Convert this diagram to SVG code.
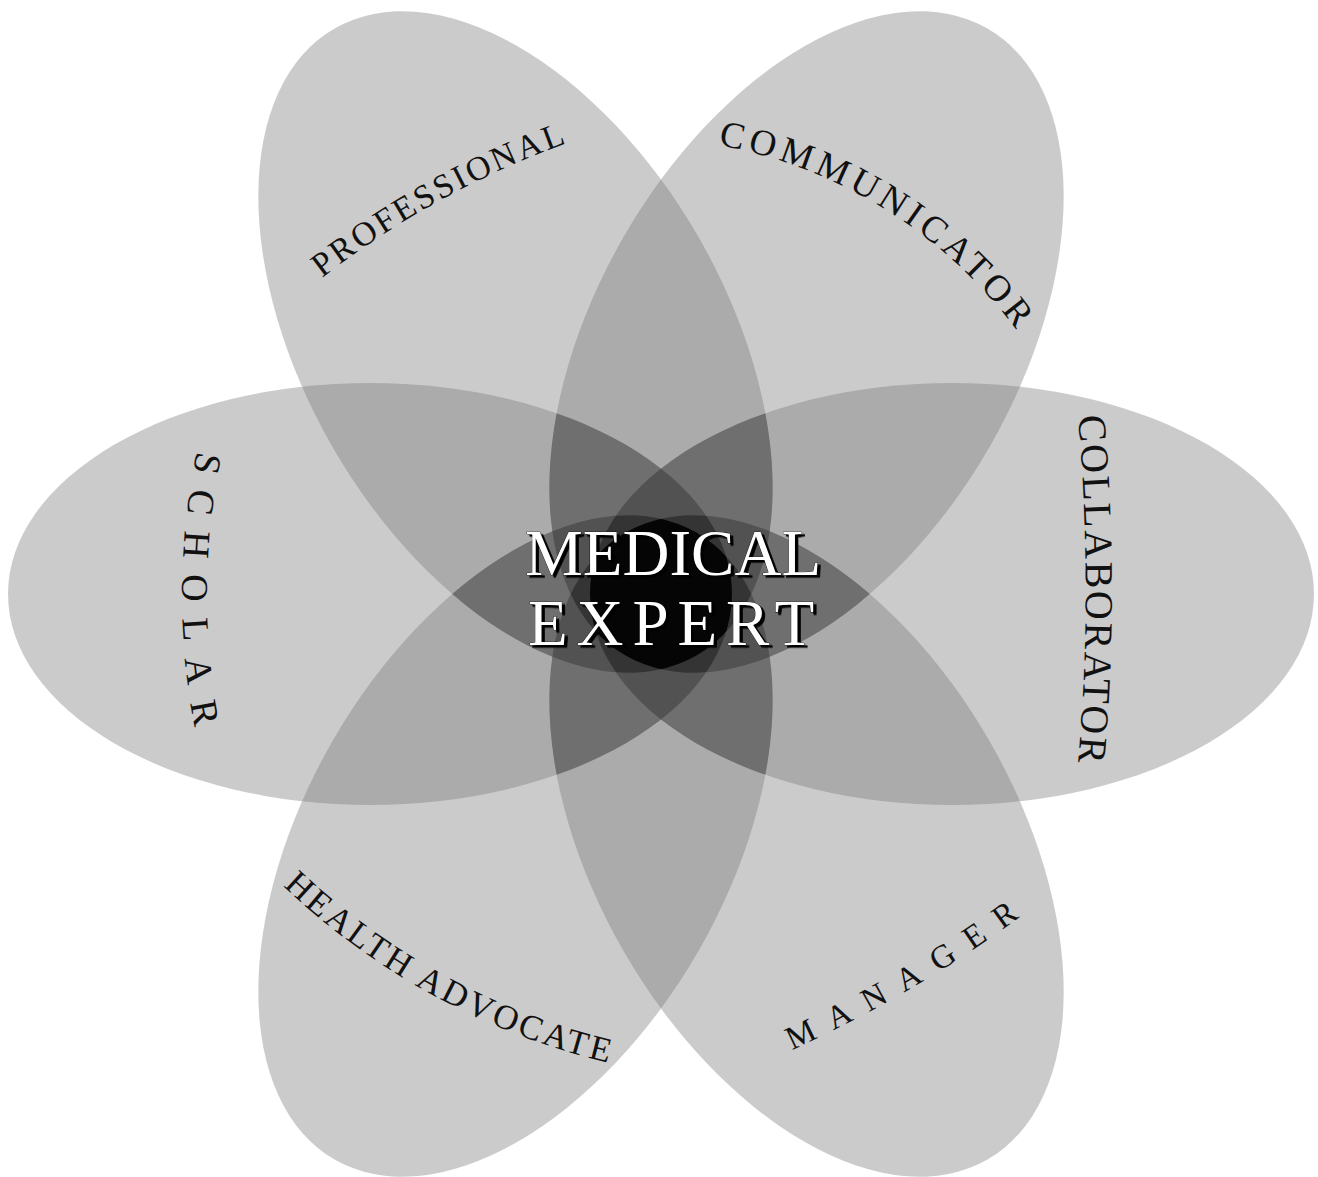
<svg xmlns="http://www.w3.org/2000/svg" width="1318" height="1177" viewBox="0 0 1318 1177">
<style>
.petal{fill:#000;fill-opacity:0.2}
.lbl{font-family:"Liberation Serif","Times New Roman",serif;fill:#111}
.me{font-family:"Liberation Serif","Times New Roman",serif;font-size:65px;fill:#fff;stroke:#000;stroke-width:0.7px;paint-order:stroke}
</style>
<defs>
<filter id="layers" filterUnits="userSpaceOnUse" x="0" y="0" width="1318" height="1177" color-interpolation-filters="sRGB">
<feComponentTransfer>
<feFuncA type="table" tableValues="0 0.0204 0.0408 0.0612 0.0816 0.102 0.1224 0.1428 0.1632 0.1836 0.204 0.2201 0.2362 0.2524 0.2685 0.2846 0.3007 0.3169 0.333 0.3716 0.4102 0.4488 0.4874 0.526 0.5646 0.5924 0.6131 0.6338 0.6545 0.6752 0.6998 0.7287 0.7575 0.7863 0.827 0.8868 0.9465 1 1 1 1 1 1 1 1 1 1 1 1 1 1"/>
</feComponentTransfer>
</filter>
<filter id="shadow" x="-10%" y="-20%" width="130%" height="150%" color-interpolation-filters="sRGB">
<feDropShadow dx="3" dy="2.5" stdDeviation="0.6" flood-color="#000" flood-opacity="1"/>
</filter>
<path id="p-prof" d="M 322 278 A 900 900 0 0 1 567 143"/>
<path id="p-comm" d="M 718 145 A 480 480 0 0 1 1018 332"/>
<path id="p-coll" d="M 1078 416 A 2000 2000 0 0 1 1078 764"/>
<path id="p-scho" d="M 197 451 A 700 700 0 0 0 195 729"/>
<path id="p-heal" d="M 283 886 A 717 717 0 0 0 609 1063"/>
<path id="p-mana" d="M 792 1050 A 1300 1300 0 0 0 1020 917"/>
</defs>
<rect x="0" y="0" width="1318" height="1177" fill="#fff"/>
<g id="petals" filter="url(#layers)">
<g id="petal-collaborator"><ellipse class="petal" cx="0" cy="0" rx="362" ry="211" transform="translate(952 594)"/></g>
<g id="petal-communicator"><ellipse class="petal" cx="0" cy="0" rx="362" ry="211" transform="translate(806.5 342) rotate(-60)"/></g>
<g id="petal-professional"><ellipse class="petal" cx="0" cy="0" rx="362" ry="211" transform="translate(515.5 342) rotate(60)"/></g>
<g id="petal-scholar"><ellipse class="petal" cx="0" cy="0" rx="362" ry="211" transform="translate(370 594)"/></g>
<g id="petal-health-advocate"><ellipse class="petal" cx="0" cy="0" rx="362" ry="211" transform="translate(515.5 846) rotate(-60)"/></g>
<g id="petal-manager"><ellipse class="petal" cx="0" cy="0" rx="362" ry="211" transform="translate(806.5 846) rotate(60)"/></g>
</g>
<g id="labels">
<g id="label-professional"><text class="lbl" font-size="34" letter-spacing="2.8"><textPath href="#p-prof">PROFESSIONAL</textPath></text></g>
<g id="label-communicator"><text class="lbl" font-size="37" letter-spacing="5"><textPath href="#p-comm">COMMUNICATOR</textPath></text></g>
<g id="label-collaborator"><text class="lbl" font-size="40" letter-spacing="2.5"><textPath href="#p-coll">COLLABORATOR</textPath></text></g>
<g id="label-scholar"><text class="lbl" font-size="38" letter-spacing="16.8"><textPath href="#p-scho">SCHOLAR</textPath></text></g>
<g id="label-health-advocate"><text class="lbl" font-size="35" letter-spacing="3"><textPath href="#p-heal">HEALTH ADVOCATE</textPath></text></g>
<g id="label-manager"><text class="lbl" font-size="33" letter-spacing="16.2"><textPath href="#p-mana">MANAGER</textPath></text></g>
</g>
<g id="node-medical-expert" filter="url(#shadow)">
<text class="me" x="525" y="575">MEDICAL</text>
<text class="me" x="528" y="645" letter-spacing="8.9">EXPERT</text>
</g>
</svg>
